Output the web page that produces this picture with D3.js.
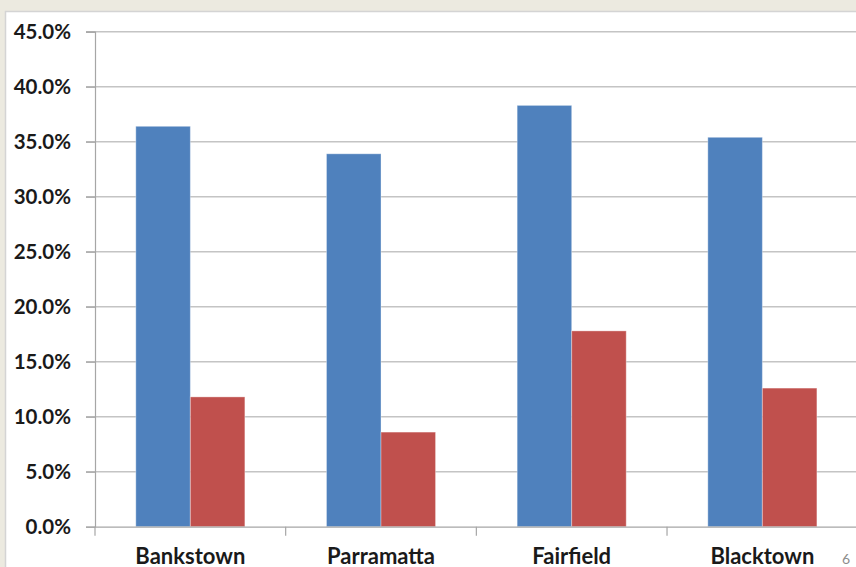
<!DOCTYPE html>
<html>
<head>
<meta charset="utf-8">
<script src="https://cdn.jsdelivr.net/npm/d3@7"></script>
<style>
  html, body { margin: 0; padding: 0; background: #ECEAE0; }
  svg { display: block; }
</style>
</head>
<body>
<svg id="chart" width="856" height="567"></svg>
<script>
// Share of residents by area, two series
const categories = ["Bankstown", "Parramatta", "Fairfield", "Blacktown"];
const seriesNames = ["Series 1", "Series 2"];
const series1 = [36.4, 33.9, 38.3, 35.4];
const series2 = [11.8, 8.6, 17.8, 12.6];
const yTicks = [0, 5, 10, 15, 20, 25, 30, 35, 40, 45];
const colors = ["#4F81BD", "#C0504D"];

const svg = d3.select("#chart");
const W = 856, H = 567;

// slide panel
svg.append("rect").attr("x", 0).attr("y", 0).attr("width", W).attr("height", H).attr("fill", "#ECEAE0");
svg.append("rect").attr("x", 5.5).attr("y", 11.5).attr("width", W).attr("height", H)
  .attr("fill", "#FFFFFF").attr("stroke", "#D4D4D4").attr("stroke-width", 1.5);

const plot = { left: 95, right: 857.7, top: 31.7, bottom: 526.7 };

const x = d3.scaleBand().domain(categories).range([plot.left, plot.right]).padding(0);
const groupPad = 0.214 * x.bandwidth();
const xs = d3.scaleBand().domain(seriesNames).range([groupPad, x.bandwidth() - groupPad]).padding(0);
const y = d3.scaleLinear().domain([0, 45]).range([plot.bottom, plot.top]);

// horizontal gridlines
svg.append("g").selectAll("line").data(yTicks.slice(1)).join("line")
  .attr("x1", plot.left - 9).attr("x2", W)
  .attr("y1", d => y(d)).attr("y2", d => y(d))
  .attr("stroke", "#C4C4C4").attr("stroke-width", 1.5);

// bars
const rows = categories.map((c, i) => ({ c, vals: [series1[i], series2[i]] }));
const groups = svg.append("g").selectAll("g").data(rows).join("g")
  .attr("transform", d => `translate(${x(d.c)},0)`);
groups.selectAll("rect").data(d => d.vals.map((v, j) => ({ v, j }))).join("rect")
  .attr("x", d => xs(seriesNames[d.j]))
  .attr("width", xs.bandwidth())
  .attr("y", d => y(d.v))
  .attr("height", d => plot.bottom - y(d.v))
  .attr("fill", d => colors[d.j])
  .attr("stroke", "rgba(255,255,255,0.35)").attr("stroke-width", 1);

// y axis
const yAxis = svg.append("g").attr("transform", `translate(${plot.left},0)`)
  .call(d3.axisLeft(y).tickValues(yTicks).tickSize(9).tickPadding(15)
    .tickFormat(d => d.toFixed(1) + "%"));
yAxis.select(".domain").attr("stroke", "#A6A6A6").attr("stroke-width", 1.2);
yAxis.selectAll(".tick line").attr("stroke", "#A6A6A6").attr("stroke-width", 1.2);
yAxis.selectAll("text").attr("font-family", "Lato, 'Open Sans', sans-serif")
  .attr("font-weight", "bold").attr("font-size", 20.5).attr("fill", "#1A1A1A");

// x axis
const xAxis = svg.append("g").attr("transform", `translate(0,${plot.bottom})`)
  .call(d3.axisBottom(x).tickSize(0).tickPadding(0));
xAxis.select(".domain").attr("stroke", "#A6A6A6").attr("stroke-width", 1.2);
xAxis.selectAll(".tick text")
  .attr("y", 37).attr("dy", 0)
  .attr("font-family", "Lato, 'Open Sans', sans-serif")
  .attr("font-weight", "bold").attr("font-size", 22).attr("fill", "#1A1A1A");
// category boundary ticks
const bounds = categories.map(c => x(c)).concat([plot.right]);
xAxis.append("g").selectAll("line").data(bounds).join("line")
  .attr("x1", d => d).attr("x2", d => d).attr("y1", 0).attr("y2", 9)
  .attr("stroke", "#A6A6A6").attr("stroke-width", 1.2);

// slide number
svg.append("text").attr("x", 846).attr("y", 564).attr("text-anchor", "middle")
  .attr("font-family", "Lato, sans-serif").attr("font-size", 14).attr("fill", "#8C8C8C")
  .text("6");
</script>
</body>
</html>
